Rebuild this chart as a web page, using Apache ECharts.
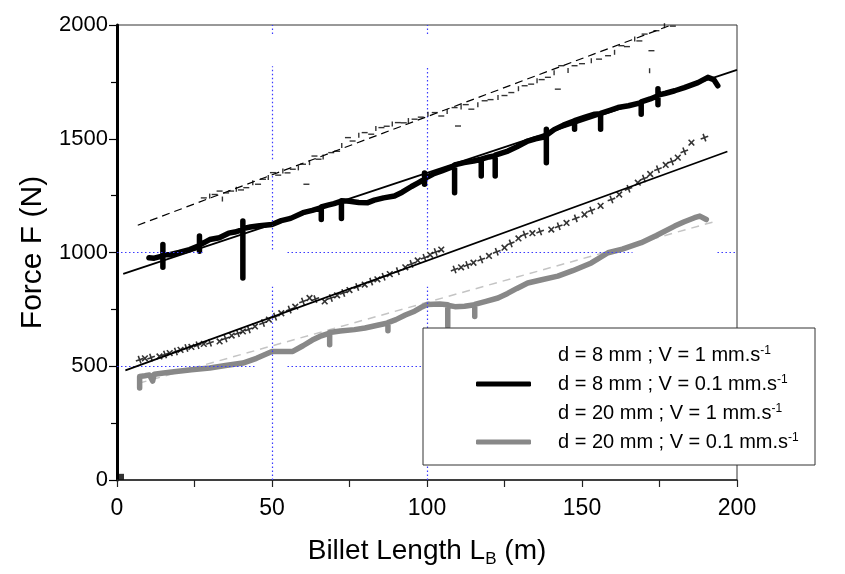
<!DOCTYPE html>
<html><head><meta charset="utf-8">
<script src="https://cdn.jsdelivr.net/npm/echarts@6/dist/echarts.min.js"></script>
<style>html,body{margin:0;padding:0;background:#fff}#c{width:845px;height:574px}</style>
</head><body><div id="c"></div>
<script>
// ---- data ----
const seriesNames = ['d = 8 mm ; V = 1 mm.s', 'd = 8 mm ; V = 0.1 mm.s', 'd = 20 mm ; V = 1 mm.s', 'd = 20 mm ; V = 0.1 mm.s'];
const xTickValues = [0, 50, 100, 150, 200];
const yTickValues = [0, 500, 1000, 1500, 2000];
// dotted reference lines (broken as in the original): [fixed value, from, to]
const gridXSegments = [[50,0,850],[50,1013,1344],[50,1410,1819],[50,1960,2000],[100,0,850],[100,1013,1819],[100,1960,2000]];
const gridYSegments = [[1000,0,27.7],[1000,55,96.6],[1000,123.4,166.3],[1000,193.7,200],[500,0,45],[500,55,200]];

// d = 8 mm ; V = 1 mm/s  (scatter of dash markers)
const pointsA = [
[28,1240],[29.9,1248],[31.5,1255],[33.1,1270],[34,1235],[35.2,1262],[36.8,1270],[38.5,1278],[40,1275],[41.7,1285],
[43.8,1307],[45.5,1300],[47.1,1322],[48.8,1330],[50.3,1351],[52,1340],[53.5,1358],[55,1350],[56.7,1366],[58.5,1372],
[60,1388],[61.1,1300],[62.1,1395],[63.7,1424],[65,1410],[66.5,1420],[69.1,1439],[71,1445],[72.5,1470],[74.5,1505],
[76,1490],[78,1515],[79.9,1527],[82,1520],[83.5,1545],[85.3,1549],[87,1555],[88.8,1565],[90.6,1571],[92.5,1570],
[94,1580],[96,1586],[98,1595],[100.3,1608],[102.5,1615],[104.6,1600],[106.5,1620],[108.9,1637],[110,1556],[111,1640],
[112.5,1650],[114.3,1630],[116.4,1650],[118.6,1667],[120.5,1672],[122.9,1681],[125,1690],[127.2,1703],[129.5,1720],[131.5,1733],
[133.6,1740],[135.5,1755],[137,1760],[139,1770],[141,1790],[142.2,1718],[143.3,1821],[145.5,1800],[147.6,1821],[150,1830],
[153,1843],[155.5,1850],[158.4,1865],[160.5,1880],[162.7,1909],[164.5,1905],[167,1938],[168.5,1930],[170.2,1960],[171.8,1799],
[172.4,1887],[174,1975],[176.6,1997],[179.3,1995]
];
// d = 8 mm ; V = 0.1 mm/s (thick black trace)
const traceB = [
[10.3,977],[12,975],[14.8,985],[14.8,1035],[14.8,935],[14.8,990],[17,990],[20,1000],[23.4,1013],[26.6,1030],[26.6,1072],[26.6,1005],[26.6,1032],
[29.9,1057],[33,1065],[36,1085],[38,1090],[40.6,1101],[40.6,1138],[40.6,888],[40.6,1105],[43,1112],[46,1118],[50,1123],
[53,1140],[56,1150],[60,1175],[63,1185],[65.9,1197],[65.9,1145],[65.9,1200],[68,1208],[70,1215],[72.4,1226],[72.4,1150],[72.4,1228],
[75,1225],[78,1220],[80.9,1219],[83,1230],[86,1240],[89.5,1248],[92,1265],[95,1290],[97,1305],[99.2,1322],[99.2,1350],
[99.2,1300],[99.2,1325],[102,1345],[105,1360],[108.9,1380],[108.9,1263],[108.9,1385],[112,1395],[115,1402],[117.5,1410],
[117.5,1336],[117.5,1410],[120,1420],[122,1425],[122,1336],[122,1428],[126.1,1446],[129,1465],[132.5,1490],[135,1500],
[138.5,1510],[138.5,1542],[138.5,1395],[138.5,1515],[141,1540],[144,1560],[147.6,1579],[147.6,1542],[147.6,1580],[151,1595],
[154.1,1608],[156,1610],[156,1542],[156,1612],[159,1625],[161.6,1637],[165,1645],[169.1,1659],[169.1,1608],[169.1,1662],
[172,1675],[174.5,1689],[174.5,1720],[174.5,1650],[174.5,1692],[177,1700],[179.9,1711],[183,1725],[187.4,1747],[190.6,1770],
[192.5,1760],[193.8,1733]
];
// d = 20 mm ; V = 1 mm/s (scatter of cross markers)
const pointsC = [
[7.3,529],[9,535],[11,538],[13.7,543],[15.5,552],[17,558],[19,565],[20.5,572],[22.4,580],[24,585],[26,592],[28,598],
[30,603],[33.1,609],[35,622],[37,635],[39,645],[40.6,653],[42.5,662],[44.5,675],[47.1,690],[49,705],[51,718],[53,733],
[55.7,749],[57.5,762],[60,785],[62.1,800],[64,795],[67,785],[69,800],[71,812],[73,822],[75,835],[77.5,848],[79.9,859],
[82,872],[84,882],[86,893],[88,905],[90.6,918],[93,935],[95,950],[97,965],[99.2,977],[101,990],[102.8,1002],[104.6,1013],
[108.9,925],[111,935],[113,945],[115,955],[117.5,969],[120,985],[122.5,1003],[125,1021],[127,1040],[129.5,1062],[131.5,1079],
[134,1085],[136.5,1092],[140.1,1101],[142.5,1115],[145,1130],[148,1150],[150.8,1167],[153,1185],[156,1205],[159.5,1233],
[162,1255],[165,1280],[168,1307],[170,1325],[172,1345],[174.5,1366],[177,1385],[179,1400],[180.9,1417],[183,1445],
[185.3,1483],[189.5,1505]
];
// d = 20 mm ; V = 0.1 mm/s (thick grey trace)
const traceD = [
[7.3,448],[7.3,404],[7.3,455],[9,458],[10.5,462],[11.5,435],[12,465],[15,470],[19.1,477],[24,485],[29.9,492],[35,503],
[40.6,514],[45,535],[50,565],[53,565],[56.7,565],[60,590],[63,615],[65.4,631],[68.6,646],[68.6,594],[68.6,648],[72,655],
[76.6,661],[80,668],[84,680],[87.4,690],[87.4,656],[87.4,692],[90,705],[93,725],[96,742],[98,758],[100.1,771],[104.1,774],
[106.7,770],[106.7,675],[106.7,768],[109,762],[112.1,764],[115.4,770],[115.4,719],[115.4,772],[119,785],[122.9,800],
[126,820],[129,842],[132.5,866],[137,880],[142.2,896],[147,920],[153,954],[158.4,999],[163,1015],[169.1,1043],[174,1075],
[179.9,1116],[183,1135],[186.3,1153],[188,1160],[190.1,1145]
];
// linear fits
const fitA = [[6.7,1120],[178.8,2000]];
const fitB = [[2,906],[200,1803]];
const fitC = [[2.7,482],[196.9,1444]];
const fitD = [[7,425],[193.3,1138]];
const originMark = [[1.3,14]];

// ---- chart ----
const FONT = 'Liberation Sans, Arial, sans-serif';
const chart = echarts.init(document.getElementById('c'), null, {renderer: 'canvas'});
const crossPath = 'path://M4,0H6V4H10V6H6V10H4V6H0V4H4Z';
const gridLineData = gridXSegments.map(s => [{coord: [s[0], s[1]]}, {coord: [s[0], s[2]]}])
  .concat(gridYSegments.map(s => [{coord: [s[1], s[0]]}, {coord: [s[2], s[0]]}]));
const option = {
  animation: false,
  backgroundColor: '#fff',
  grid: {left: 117, right: 108, top: 25, bottom: 94, show: true, borderColor: '#333', borderWidth: 1, backgroundColor: 'transparent'},
  xAxis: {
    type: 'value', min: 0, max: 200, interval: 50,
    name: 'Billet Length L{sub|B} (m)', nameLocation: 'middle', nameGap: 55,
    nameTextStyle: {fontFamily: FONT, fontSize: 28, color: '#000',
      rich: {sub: {fontFamily: FONT, fontSize: 17, color: '#000', verticalAlign: 'bottom', padding: [16, 0, 0, 0]}}},
    axisLine: {show: true, onZero: false, lineStyle: {color: '#222', width: 1.5}},
    axisTick: {show: true, length: 7, lineStyle: {color: '#222', width: 1.2}},
    minorTick: {show: true, splitNumber: 2, length: 7, lineStyle: {color: '#222', width: 1.2}},
    axisLabel: {fontFamily: FONT, fontSize: 23, color: '#000', margin: 17,
      formatter: v => xTickValues.includes(v) ? String(v) : ''},
    splitLine: {show: false}
  },
  yAxis: {
    type: 'value', min: 0, max: 2000, interval: 500,
    name: 'Force F (N)', nameLocation: 'middle', nameGap: 63, nameRotate: 90,
    nameTextStyle: {fontFamily: FONT, fontSize: 30, color: '#000'},
    axisLine: {show: true, onZero: false, lineStyle: {color: '#000', width: 3}},
    axisTick: {show: true, length: 8, lineStyle: {color: '#000', width: 1.2}},
    minorTick: {show: true, splitNumber: 2, length: 6, lineStyle: {color: '#000', width: 1.2}},
    axisLabel: {fontFamily: FONT, fontSize: 22, color: '#000', margin: 9,
      formatter: v => yTickValues.includes(v) ? String(v) : ''},
    splitLine: {show: false}
  },
  legend: {
    orient: 'vertical', left: 476, top: 345, padding: 0, itemGap: 9,
    itemWidth: 55, itemHeight: 5, icon: 'roundRect', z: 100,
    data: seriesNames.map((n, i) => (i % 2 === 0 ? {name: n, itemStyle: {opacity: 0}} : {name: n})),
    formatter: n => '{t|' + n + '}{s|-1}',
    textStyle: {fontFamily: FONT, fontSize: 20, color: '#000', padding: [0, 0, 0, 22],
      rich: {t: {fontFamily: FONT, fontSize: 20, lineHeight: 20, color: '#000'},
             s: {fontFamily: FONT, fontSize: 12, lineHeight: 12, color: '#000', verticalAlign: 'top'}}}
  },
  graphic: {elements: [{type: 'rect', z: 50, shape: {x: 423, y: 328, width: 392, height: 137},
    style: {fill: '#fff', stroke: '#333', lineWidth: 1}}]},
  series: [
    {name: 'grid', type: 'line', data: [], silent: true,
      markLine: {silent: true, symbol: 'none', label: {show: false},
        lineStyle: {color: '#3a3aff', width: 1.2, type: [1.5, 2.5]},
        data: gridLineData}},
    {name: 'fitA', type: 'line', data: fitA, showSymbol: false, symbol: 'none', silent: true,
      lineStyle: {color: '#000', width: 1.2, type: [8, 5]}, z: 3},
    {name: 'fitD', type: 'line', data: fitD, showSymbol: false, symbol: 'none', silent: true,
      lineStyle: {color: '#c4c4c4', width: 1.5, type: [8, 6]}, z: 3},
    {name: seriesNames[3], type: 'line', data: traceD, showSymbol: false, symbol: 'none',
      lineStyle: {color: '#888', width: 5.5, cap: 'round', join: 'round'}, itemStyle: {color: '#888'}, z: 4},
    {name: seriesNames[1], type: 'line', data: traceB, showSymbol: false, symbol: 'none',
      lineStyle: {color: '#000', width: 5.5, cap: 'round', join: 'round'}, itemStyle: {color: '#000'}, z: 4},
    {name: 'fitB', type: 'line', data: fitB, showSymbol: false, symbol: 'none', silent: true,
      lineStyle: {color: '#000', width: 1.8}, z: 5},
    {name: 'fitC', type: 'line', data: fitC, showSymbol: false, symbol: 'none', silent: true,
      lineStyle: {color: '#000', width: 1.8}, z: 5},
    {name: seriesNames[0], type: 'scatter', data: pointsA, symbol: 'rect',
      symbolSize: (v, p) => (p.dataIndex % 3 === 1 ? [5, 1.4] : [6, 1.4]),
      symbolRotate: (v, p) => (p.dataIndex % 3 === 1 ? 90 : 0),
      itemStyle: {color: '#000'}, z: 6},
    {name: seriesNames[2], type: 'scatter', data: pointsC, symbol: crossPath, symbolSize: 8,
      symbolRotate: (v, p) => (p.dataIndex % 2 ? 45 : 20),
      itemStyle: {color: '#000'}, z: 6},
    {name: 'origin', type: 'scatter', data: originMark, symbol: 'rect', symbolSize: 6, itemStyle: {color: '#000'}, z: 6}
  ]
};
chart.setOption(option);
</script>
</body></html>
